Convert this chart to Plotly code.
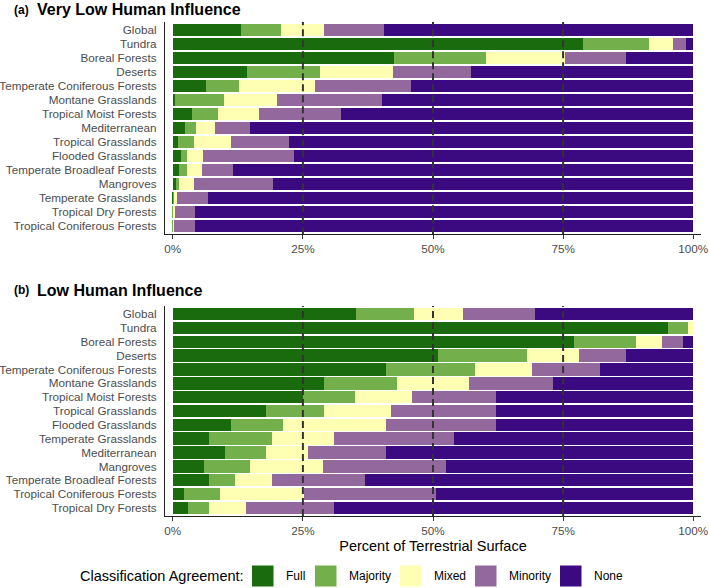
import plotly.graph_objects as go

# Classification agreement classes and colours
classes = ["Full", "Majority", "Mixed", "Minority", "None"]
colors = ["#1a6b0e", "#73af4a", "#ffffb3", "#93699d", "#3b0a80"]

# (a) Very Low Human Influence
biomes_a = ["Global", "Tundra", "Boreal Forests", "Deserts", "Temperate Coniferous Forests",
            "Montane Grasslands", "Tropical Moist Forests", "Mediterranean", "Tropical Grasslands",
            "Flooded Grasslands", "Temperate Broadleaf Forests", "Mangroves",
            "Temperate Grasslands", "Tropical Dry Forests", "Tropical Coniferous Forests"]
full_a = [13.1, 78.8, 42.6, 14.3, 6.4, 0.4, 3.6, 2.4, 1.0, 1.5, 1.2, 0.6, 0.1, 0.0, 0.0]
majority_a = [7.6, 12.8, 17.6, 14.0, 6.3, 9.5, 5.0, 2.1, 3.0, 1.3, 1.6, 0.6, 0.15, 0.1, 0.05]
mixed_a = [8.4, 4.6, 15.1, 14.1, 14.7, 10.1, 7.9, 3.6, 7.2, 3.0, 2.8, 2.8, 0.55, 0.35, 0.25]
minority_a = [11.5, 2.5, 11.7, 14.9, 18.4, 20.2, 15.8, 6.8, 11.1, 17.5, 6.0, 15.2, 5.9, 3.85, 3.9]
none_a = [59.4, 1.3, 13.0, 42.7, 54.2, 59.8, 67.7, 85.1, 77.7, 76.7, 88.4, 80.8, 93.3, 95.7, 95.8]

# (b) Low Human Influence
biomes_b = ["Global", "Tundra", "Boreal Forests", "Deserts", "Temperate Coniferous Forests",
            "Montane Grasslands", "Tropical Moist Forests", "Tropical Grasslands",
            "Flooded Grasslands", "Temperate Grasslands", "Mediterranean", "Mangroves",
            "Temperate Broadleaf Forests", "Tropical Coniferous Forests", "Tropical Dry Forests"]
full_b = [35.2, 95.1, 77.0, 51.0, 41.0, 29.0, 25.0, 18.0, 11.1, 7.0, 10.0, 6.0, 7.0, 2.1, 3.0]
majority_b = [11.1, 3.9, 12.0, 17.1, 17.0, 14.1, 10.0, 11.0, 10.0, 12.0, 8.0, 8.8, 5.0, 7.0, 4.0]
mixed_b = [9.5, 1.0, 5.1, 10.0, 11.0, 13.9, 11.0, 13.0, 19.9, 12.0, 8.0, 14.0, 7.1, 16.2, 7.1]
minority_b = [13.8, 0.0, 3.9, 8.9, 13.0, 16.0, 16.1, 20.1, 21.1, 23.0, 15.0, 23.7, 17.9, 25.2, 16.9]
none_b = [30.4, 0.0, 2.0, 13.0, 18.0, 27.0, 37.9, 37.9, 37.9, 46.0, 59.0, 47.5, 63.0, 49.5, 69.0]

ref_lines = [25, 50, 75]
x_ticks = [0, 25, 50, 75, 100]
x_tick_labels = ["0%", "25%", "50%", "75%", "100%"]

# pixel helpers (figure 709x588, plot area l=165 r=8 t=22 b=72)
W, H = 709, 588
L, R, T, B = 165, 8, 22, 72
pw, ph = W - L - R, H - T - B


def px(x):
    return (x - L) / pw


def py(y):
    return (H - B - y) / ph


fig = go.Figure()

panels = [
    (biomes_a, [full_a, majority_a, mixed_a, minority_a, none_a], "x", "y"),
    (biomes_b, [full_b, majority_b, mixed_b, minority_b, none_b], "x2", "y2"),
]
for biomes, series, xa, ya in panels:
    for name, vals, col in zip(classes, series, colors):
        fig.add_trace(go.Bar(
            y=biomes, x=vals, orientation="h", name=name,
            marker=dict(color=col, line=dict(width=0)),
            xaxis=xa, yaxis=ya, showlegend=False,
            hovertemplate="%{y}: %{x}%<extra>" + name + "</extra>"
        ))

# dashed reference lines
for xa, ya in [("x", "y"), ("x2", "y2")]:
    for v in ref_lines:
        fig.add_shape(type="line", xref=xa, yref=ya + " domain", x0=v, x1=v, y0=0, y1=1,
                      line=dict(color="#333333", width=2, dash="7px,4px"), layer="above")

axis_font = dict(family="Liberation Sans, Arial, sans-serif", size=11.7, color="#4d4d4d")
xcommon = dict(range=[-1.5, 101.5], tickmode="array", tickvals=x_ticks,
               ticktext=x_tick_labels, showline=True,
               linecolor="#222222", linewidth=1.2, ticks="outside", ticklen=4,
               tickcolor="#333333", tickwidth=1.2, showgrid=False, zeroline=False,
               tickfont=axis_font, fixedrange=True, automargin=False)
ycommon = dict(showline=True, linecolor="#222222", linewidth=1.2, ticks="",
               showgrid=False, zeroline=False, tickfont=axis_font, ticklabelstandoff=5,
               range=[14.58, -0.58], fixedrange=True, automargin=False,
               tickmode="linear", dtick=1)

fig.update_layout(
    width=W, height=H,
    margin=dict(l=L, r=R, t=T, b=B, autoexpand=False),
    barmode="stack", bargap=0.1,
    plot_bgcolor="white", paper_bgcolor="white",
    font=dict(family="Liberation Sans, Arial, sans-serif", color="black"),
    xaxis=dict(domain=[0, 1], anchor="y", **xcommon),
    yaxis=dict(domain=[py(234.3), 1], anchor="x", categoryorder="array",
               categoryarray=biomes_a, **ycommon),
    xaxis2=dict(domain=[0, 1], anchor="y2",
                title=dict(text="Percent of Terrestrial Surface", standoff=4,
                           font=dict(size=14.5, color="black")),
                **xcommon),
    yaxis2=dict(domain=[0, py(306)], anchor="x2", categoryorder="array",
                categoryarray=biomes_b, **ycommon),
)

# panel titles
for tag, title, ycen in [("(a)", "Very Low Human Influence", 10),
                         ("(b)", "Low Human Influence", 290)]:
    fig.add_annotation(text="<b>" + tag + "</b>", xref="paper", yref="paper",
                       x=px(12), y=py(ycen), xanchor="left", yanchor="middle",
                       showarrow=False, font=dict(size=12, color="black"))
    fig.add_annotation(text="<b>" + title + "</b>", xref="paper", yref="paper",
                       x=px(35), y=py(ycen), xanchor="left", yanchor="middle",
                       showarrow=False, font=dict(size=16, color="black"))

# legend (ggplot-style bottom key)
fig.add_annotation(text="Classification Agreement:", xref="paper", yref="paper",
                   x=px(246), y=py(576), xanchor="right", yanchor="middle",
                   showarrow=False, font=dict(size=14.5, color="black"))
key_x = [252, 315, 400, 475, 560]
for name, col, kx in zip(classes, colors, key_x):
    fig.add_shape(type="rect", xref="paper", yref="paper",
                  x0=px(kx), x1=px(kx + 21.5), y0=py(586.5), y1=py(565.5),
                  fillcolor=col, line=dict(width=0))
    fig.add_annotation(text=name, xref="paper", yref="paper",
                       x=px(kx + 32), y=py(576), xanchor="left", yanchor="middle",
                       showarrow=False, font=dict(size=12, color="black"))

# page body has a default 8px margin; drop it so the figure fills the window
fig.write_html("out.html", config={"displayModeBar": False},
               post_script="document.body.style.margin='0';")
